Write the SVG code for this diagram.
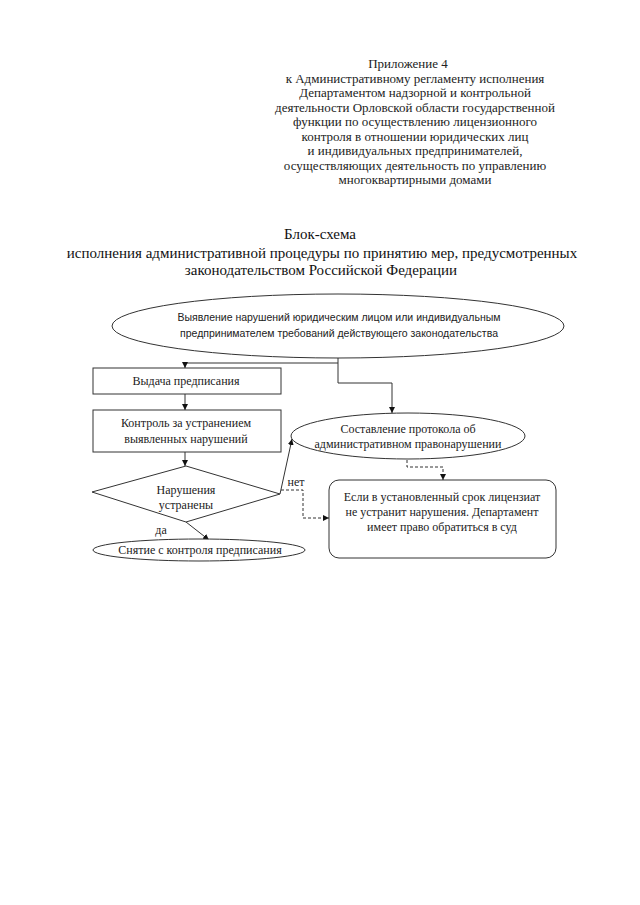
<svg xmlns="http://www.w3.org/2000/svg" width="640" height="905" viewBox="0 0 640 905">
<style>
.hdr{font-family:"Liberation Serif","Times New Roman",serif;font-size:13px;fill:#222;text-anchor:middle}
.ttl{font-family:"Liberation Serif","Times New Roman",serif;font-size:15px;fill:#111;text-anchor:middle}
.t{font-family:"Liberation Serif","Times New Roman",serif;font-size:12px;fill:#222;text-anchor:middle}
.ts{font-family:"Liberation Sans",Arial,sans-serif;font-size:10.5px;fill:#222;text-anchor:middle}
.shape{fill:#fff;stroke:#333;stroke-width:1}
.ln{fill:none;stroke:#333;stroke-width:1}
.dash{fill:none;stroke:#333;stroke-width:1;stroke-dasharray:3 2}
</style>
<defs>
<marker id="ah" viewBox="0 0 10 10" refX="10" refY="5" markerWidth="6" markerHeight="6" orient="auto" markerUnits="userSpaceOnUse">
<path d="M0,0 L10,5 L0,10 z" fill="#111"/>
</marker>
</defs>
<rect width="640" height="905" fill="#fff"/>
<g id="header">
<text class="hdr" x="408" y="68">Приложение 4</text>
<text class="hdr" x="415" y="82.5">к Административному регламенту исполнения</text>
<text class="hdr" x="415" y="97">Департаментом надзорной и контрольной</text>
<text class="hdr" x="415" y="111.5">деятельности Орловской области государственной</text>
<text class="hdr" x="415" y="126">функции по осуществлению лицензионного</text>
<text class="hdr" x="415" y="140.5">контроля в отношении юридических лиц</text>
<text class="hdr" x="415" y="155">и индивидуальных предпринимателей,</text>
<text class="hdr" x="415" y="169.5">осуществляющих деятельность по управлению</text>
<text class="hdr" x="415" y="184">многоквартирными домами</text>
</g>
<g id="title">
<text class="ttl" x="320" y="239">Блок-схема</text>
<text class="ttl" x="322" y="257.5">исполнения административной процедуры по принятию мер, предусмотренных</text>
<text class="ttl" x="321" y="275">законодательством Российской Федерации</text>
</g>
<g id="connectors">
<polyline class="ln" points="338,358 338,363 185,363 185,368" marker-end="url(#ah)"/>
<polyline class="ln" points="338,363 338,383 392,383 392,413" marker-end="url(#ah)"/>
<line class="ln" x1="185" y1="394" x2="185" y2="410" marker-end="url(#ah)"/>
<line class="ln" x1="185" y1="452" x2="185" y2="466" marker-end="url(#ah)"/>
<line class="ln" x1="186" y1="522" x2="209" y2="540" marker-end="url(#ah)"/>
<line class="ln" x1="280" y1="494" x2="292" y2="439" marker-end="url(#ah)"/>
<polyline class="dash" points="281,490 303,490 303,518 329,518" marker-end="url(#ah)"/>
<polyline class="dash" points="407,460 407,467 443,467 443,480" marker-end="url(#ah)"/>
<text class="t" x="296" y="486">нет</text>
<text class="t" x="161" y="534">да</text>
</g>
<g id="n1">
<ellipse class="shape" cx="338" cy="326" rx="226" ry="32"/>
<text class="ts" x="339" y="321">Выявление нарушений юридическим лицом или индивидуальным</text>
<text class="ts" x="339" y="337">предпринимателем требований действующего законодательства</text>
</g>
<g id="n2">
<rect class="shape" x="93" y="368" width="188" height="26"/>
<text class="t" x="186" y="385">Выдача предписания</text>
</g>
<g id="n3">
<rect class="shape" x="93" y="410" width="188" height="42"/>
<text class="t" x="186" y="427">Контроль за устранением</text>
<text class="t" x="186" y="443">выявленных нарушений</text>
</g>
<g id="n4">
<polygon class="shape" points="186,466 280,494 186,522 92,492"/>
<text class="t" x="186" y="494">Нарушения</text>
<text class="t" x="186" y="509">устранены</text>
</g>
<g id="n5">
<ellipse class="shape" cx="199" cy="550" rx="106" ry="11"/>
<text class="t" x="200" y="554">Снятие с контроля предписания</text>
</g>
<g id="n6">
<ellipse class="shape" cx="408" cy="436" rx="117" ry="23"/>
<text class="t" x="408" y="433">Составление протокола об</text>
<text class="t" x="408" y="448">административном правонарушении</text>
</g>
<g id="n7">
<rect class="shape" x="329" y="480" width="227" height="78" rx="10" ry="10"/>
<text class="t" x="442" y="501">Если в установленный срок лицензиат</text>
<text class="t" x="442" y="516">не устранит нарушения. Департамент</text>
<text class="t" x="442" y="531">имеет право обратиться в суд</text>
</g>
</svg>
